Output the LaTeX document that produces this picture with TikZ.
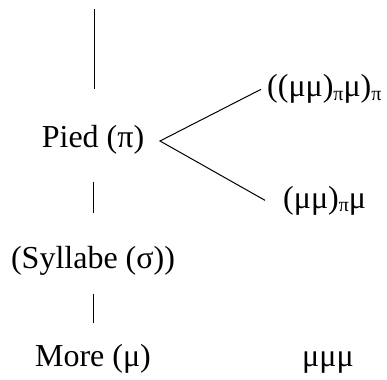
\documentclass[tikz,border=0pt]{standalone}
\usepackage{fontspec}
\setmainfont{Liberation Serif}
\newcommand\lowpi{\raisebox{-0.12em}{\fontsize{20}{20}\selectfont π}}
\tikzset{
  lbl/.style={inner sep=0pt, anchor=base, font=\fontsize{32}{38}\selectfont},
  lblw/.style={lbl, anchor=base west},
  link/.style={line width=1pt}
}
\begin{document}
\begin{tikzpicture}[x=1pt,y=-1pt]
\useasboundingbox (0,0) rectangle (387,379);
% levels of the prosodic hierarchy
\node[lbl] (pied) at (93,148) {Pied (π)};
\node[lbl] (syl) at (93,268) {(Syllabe (σ))};
\node[lbl] (more) at (93,366) {More (μ)};
% foot structures and moras
\node[lblw] (up) at (267,97) {((μμ)\lowpi μ)\lowpi};
\node[lblw] (low) at (283,208) {(μμ)\lowpi μ};
\node[lblw] (mu) at (302,366) {μμμ};
% vertical connectors
\coordinate (topend) at (94,9);
\draw[link] (topend) -- ([xshift=1pt,yshift=37pt]pied.north);
\draw[link, shorten <=27pt, shorten >=33pt] (pied.south) -- (syl.north);
\draw[link, shorten <=19pt, shorten >=21pt] (syl.south) -- (more.north);
% fork
\coordinate (fork) at (160,141);
\draw[link] ([xshift=-6pt]up.west) -- (fork) -- ([xshift=-18pt]low.west);
\end{tikzpicture}
\end{document}
